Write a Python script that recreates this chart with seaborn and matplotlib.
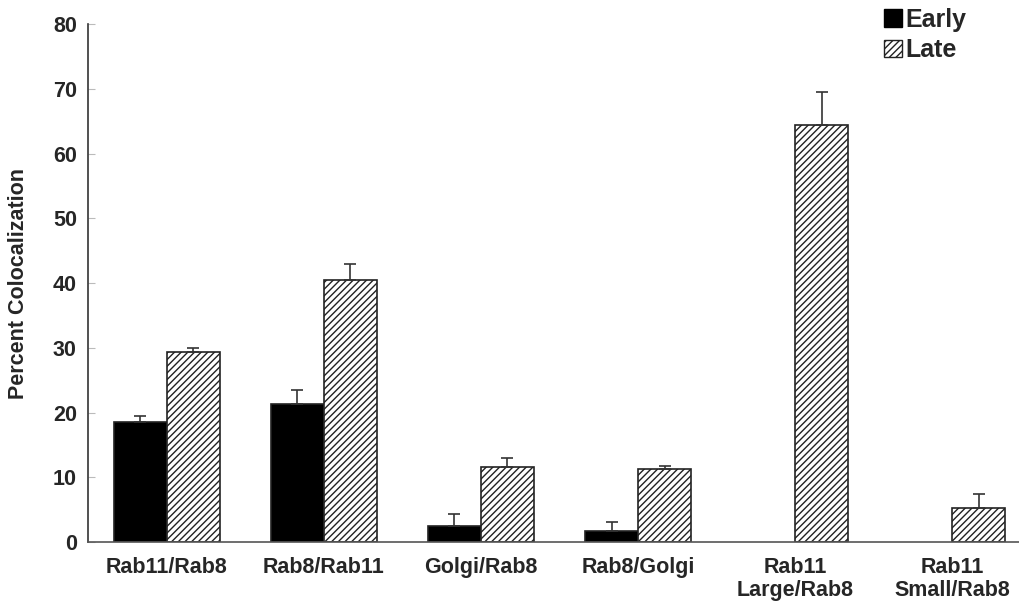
import numpy as np
import pandas as pd
import seaborn as sns
import matplotlib.pyplot as plt
from matplotlib.patches import Patch

# values
pairs = ['Rab11/Rab8', 'Rab8/Rab11', 'Golgi/Rab8', 'Rab8/Golgi',
         'Rab11\nLarge/Rab8', 'Rab11\nSmall/Rab8']
early = [18.5, 21.3, 2.4, 1.7, np.nan, np.nan]
early_err = [1.0, 2.2, 2.0, 1.4, np.nan, np.nan]
late = [29.4, 40.5, 11.6, 11.3, 64.4, 5.3]
late_err = [0.5, 2.5, 1.4, 0.4, 5.1, 2.1]

df = pd.DataFrame({
    'Pair': pairs * 2,
    'Stage': ['Early'] * 6 + ['Late'] * 6,
    'Value': early + late,
})

sns.set_style('ticks')
plt.rcParams['font.family'] = ['Liberation Sans', 'DejaVu Sans']
plt.rcParams['hatch.linewidth'] = 1.0

fig = plt.figure(figsize=(10.2, 6.06), dpi=100)
ax = fig.add_axes([0.0863, 0.1056, 0.9137, 0.8544])

sns.barplot(data=df, x='Pair', y='Value', hue='Stage', order=pairs,
            hue_order=['Early', 'Late'], palette=['black', 'white'],
            edgecolor='#222222', linewidth=1.2, width=0.675,
            errorbar=None, legend=False, ax=ax)

# hatch the late bars and add one-sided error bars
errs = {'Early': early_err, 'Late': late_err}
for cont, stage in zip(ax.containers, ['Early', 'Late']):
    vals = df[df['Stage'] == stage].set_index('Pair')['Value']
    e = pd.Series(errs[stage], index=pairs)
    for bar, pair in zip(cont, [p for p in pairs if not np.isnan(vals[p])]):
        if stage == 'Late':
            bar.set_hatch('/////')
        xc = bar.get_x() + bar.get_width() / 2
        ax.errorbar(xc, bar.get_height(), yerr=[[0], [e[pair]]],
                    fmt='none', ecolor='#333333', elinewidth=1.2,
                    capsize=4, capthick=1.2)

ax.set_ylim(0, 80)
ax.set_xlim(-0.5, 5.43)
ax.set_yticks(range(0, 81, 10))
ax.set_xlabel('')
ax.set_ylabel('Percent Colocalization', fontsize=15.5, fontweight='bold')
ax.yaxis.set_label_coords(-0.063, 0.5)
ax.tick_params(axis='y', direction='in', length=5, color='#bbbbbb',
               labelsize=15.5, pad=8)
ax.tick_params(axis='x', length=0, labelsize=15.5, pad=11)
for lab in ax.get_xticklabels() + ax.get_yticklabels():
    lab.set_fontweight('bold')
    lab.set_linespacing(1.1)
for s in ['top', 'right']:
    ax.spines[s].set_visible(False)
ax.spines['left'].set_color('#333333')
ax.spines['bottom'].set_color('#555555')
ax.spines['left'].set_linewidth(1.2)
ax.spines['bottom'].set_linewidth(1.2)

handles = [Patch(facecolor='black', edgecolor='black', label='Early'),
           Patch(facecolor='white', edgecolor='#222222', hatch='/////',
                 label='Late')]
ax.legend(handles=handles, loc='upper left', bbox_to_anchor=(0.83, 1.075),
          frameon=False, handlelength=0.7, handleheight=0.7,
          handletextpad=0.15, labelspacing=0.25,
          prop={'size': 18, 'weight': 'bold'})

fig.savefig('out.png', dpi=100)
